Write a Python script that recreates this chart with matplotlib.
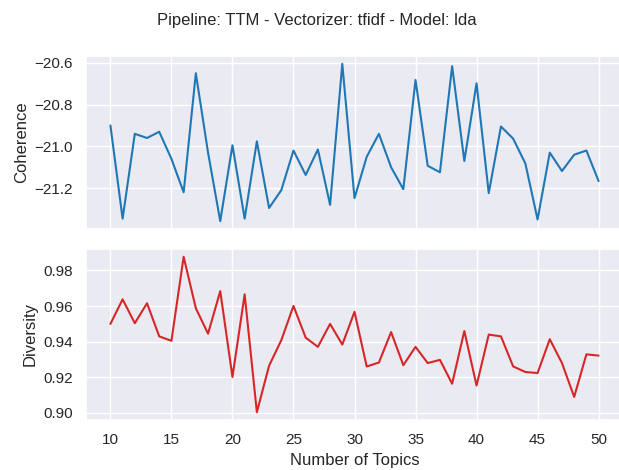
import matplotlib
matplotlib.use("Agg")
import matplotlib.pyplot as plt
import seaborn as sns

topics = list(range(10, 51))

coherence = [
    -20.90, -21.346, -20.94, -20.96, -20.93, -21.06, -21.22, -20.65, -21.03, -21.358,
    -20.995, -21.346, -20.976, -21.295, -21.21, -21.02, -21.137, -21.015, -21.28, -20.605,
    -21.248, -21.05, -20.94, -21.10, -21.205, -20.682, -21.093, -21.124, -20.616, -21.07,
    -20.698, -21.224, -20.905, -20.963, -21.082, -21.35, -21.03, -21.118, -21.04, -21.02,
    -21.166,
]

diversity = [
    0.9500, 0.9638, 0.9504, 0.9616, 0.9430, 0.9405, 0.9877, 0.9588, 0.9445, 0.9684,
    0.9202, 0.9666, 0.9004, 0.9265, 0.9408, 0.9601, 0.9423, 0.9371, 0.9500, 0.9384,
    0.9568, 0.9261, 0.9283, 0.9454, 0.9268, 0.9371, 0.9280, 0.9298, 0.9164, 0.9460,
    0.9154, 0.9440, 0.9430, 0.9261, 0.9230, 0.9224, 0.9414, 0.9280, 0.9090, 0.9329,
    0.9322,
]

sns.set_theme(style="darkgrid")
plt.rcParams["font.family"] = ["Liberation Sans", "DejaVu Sans"]

fig = plt.figure(figsize=(6.19, 4.70), dpi=100)
W, H = 619.0, 470.0
ax1 = fig.add_axes([86 / W, 1 - 229 / H, 537 / W, 173 / H])
ax2 = fig.add_axes([86 / W, 1 - 420 / H, 537 / W, 171 / H], sharex=ax1)

ax1.plot(topics, coherence, color="tab:blue")
ax1.set_ylabel("Coherence")
ax1.set_yticks([-20.6, -20.8, -21.0, -21.2])
plt.setp(ax1.get_xticklabels(), visible=False)

ax2.plot(topics, diversity, color="tab:red")
ax2.set_ylabel("Diversity")
ax2.set_xlabel("Number of Topics")
ax2.set_yticks([0.90, 0.92, 0.94, 0.96, 0.98])
ax2.set_xticks([10, 15, 20, 25, 30, 35, 40, 45, 50])

fig.text(316.5 / W, 1 - 21 / H, "Pipeline: TTM - Vectorizer: tfidf - Model: lda",
         ha="center", va="center", fontsize=12)

fig.savefig("out.png", dpi=100)
